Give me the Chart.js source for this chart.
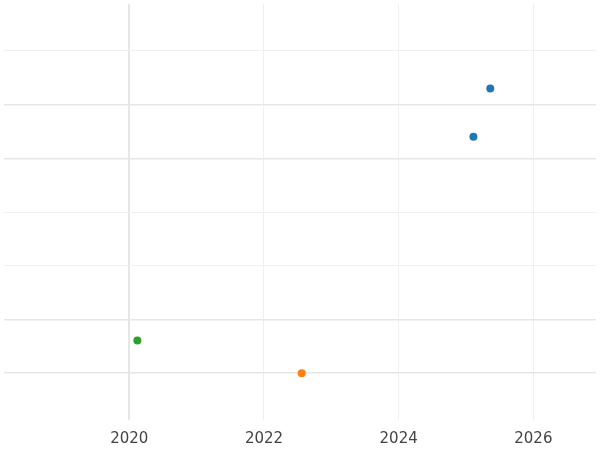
<!DOCTYPE html>
<html>
<head>
<meta charset="utf-8">
<script src="https://cdn.jsdelivr.net/npm/chart.js@4/dist/chart.umd.min.js"></script>
<style>
  html, body { margin: 0; padding: 0; background: #fff; }
  #wrap { width: 600px; height: 450px; }
</style>
</head>
<body>
<div id="wrap"><canvas id="chart"></canvas></div>
<script>
// data
const blueX = [2025.36, 2025.11];
const blueY = [6.30, 5.40];
const orangeX = [2022.56];
const orangeY = [1.0];
const greenX = [2020.12];
const greenY = [1.61];
const xTicks = [2020, 2022, 2024, 2026];
const yTicks = [1, 2, 3, 4, 5, 6, 7];

function pts(xs, ys) {
    return xs.map((x, i) => ({ x: x, y: ys[i] }));
}

new Chart(document.getElementById('chart'), {
    type: 'scatter',
    data: {
        datasets: [
            { data: pts(blueX, blueY), backgroundColor: '#1f77b4', borderWidth: 0, pointRadius: 4 },
            { data: pts(orangeX, orangeY), backgroundColor: '#ff7f0e', borderWidth: 0, pointRadius: 4 },
            { data: pts(greenX, greenY), backgroundColor: '#2ca02c', borderWidth: 0, pointRadius: 4 }
        ]
    },
    options: {
        responsive: true,
        maintainAspectRatio: false,
        animation: false,
        layout: { padding: { top: -4, left: -4, right: -4, bottom: -8 } },
        plugins: { legend: { display: false }, tooltip: { enabled: false } },
        scales: {
            x: {
                type: 'linear',
                min: 2018.14,
                max: 2026.93,
                afterBuildTicks: s => { s.ticks = xTicks.map(v => ({ value: v })); },
                border: { display: false },
                grid: {
                    color: ctx => ctx.tick && ctx.tick.value === 2020 ? '#e6e6e6' : '#efefef',
                    lineWidth: ctx => ctx.tick && ctx.tick.value === 2020 ? 2 : 1,
                    drawTicks: false
                },
                ticks: {
                    color: '#444',
                    font: { family: 'DejaVu Sans', size: 15 },
                    padding: 10,
                    callback: v => String(v)
                }
            },
            y: {
                min: 0.13,
                max: 7.87,
                afterBuildTicks: s => { s.ticks = yTicks.map(v => ({ value: v })); },
                afterFit: s => { s.width = 0; },
                border: { display: false },
                grid: {
                    color: ctx => ctx.tick && [1, 2, 5, 6].includes(ctx.tick.value) ? '#e6e6e6' : '#f0f0f0',
                    lineWidth: ctx => ctx.tick && [1, 2, 5, 6].includes(ctx.tick.value) ? 1.5 : 1,
                    drawTicks: false
                },
                ticks: { display: false }
            }
        }
    }
});
</script>
</body>
</html>
